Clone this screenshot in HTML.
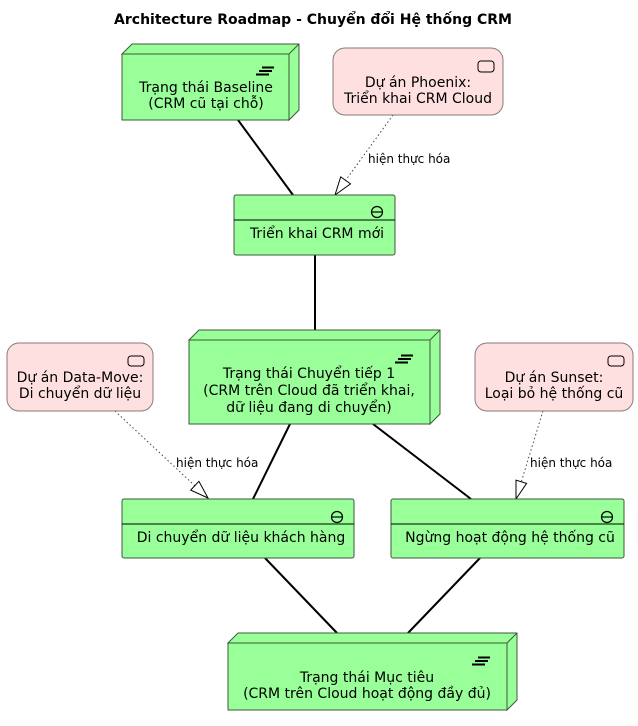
<!DOCTYPE html>
<html><head><meta charset="utf-8"><style>
html,body{margin:0;padding:0;background:#fff;}
svg{display:block;}
text{font-family:"DejaVu Sans","Liberation Sans",sans-serif;}
</style></head><body>
<svg width="638" height="726" viewBox="0 0 638 726" xmlns="http://www.w3.org/2000/svg">
<rect width="638" height="726" fill="#fff"/>
<text x="313" y="24" font-size="14" font-weight="bold" text-anchor="middle" fill="#000">Architecture Roadmap - Chuyển đổi Hệ thống CRM</text>

<!-- connectors -->
<g stroke="#000" stroke-width="2" fill="none">
<line x1="238" y1="120" x2="293" y2="195"/>
<line x1="315" y1="255" x2="315" y2="330"/>
<line x1="290" y1="424" x2="253" y2="499"/>
<line x1="373" y1="424" x2="471" y2="499"/>
<line x1="265" y1="558" x2="337" y2="633"/>
<line x1="480" y1="558" x2="408" y2="633"/>
</g>
<g stroke="#444" stroke-width="1" fill="none" stroke-dasharray="1.5,2.5">
<line x1="393" y1="115" x2="345.6" y2="180.4"/>
<line x1="115" y1="411" x2="194.8" y2="485.7"/>
<line x1="543" y1="411" x2="521.3" y2="481.8"/>
</g>
<g stroke="#000" stroke-width="1" fill="#fff">
<polygon points="335,195 350.5,183.9 340.7,176.9"/>
<polygon points="208,498 198.9,481.3 190.7,490.1"/>
<polygon points="516,499 526.6,483.4 516,480.2"/>
</g>
<g font-size="12" fill="#000">
<text x="368" y="163">hiện thực hóa</text>
<text x="176" y="467">hiện thực hóa</text>
<text x="530" y="467">hiện thực hóa</text>
</g>

<!-- 3D plateau boxes -->
<g fill="#99FF99" stroke="#3d5a3d" stroke-width="1">
<polygon points="122,54 132,44 299,44 299,110 289,120 289,54"/>
<rect x="122" y="54" width="167" height="66"/>
<line x1="289" y1="54" x2="299" y2="44"/>
<polygon points="189,340 199,330 440,330 440,414 430,424 430,340"/>
<rect x="189" y="340" width="241" height="84"/>
<line x1="430" y1="340" x2="440" y2="330"/>
<polygon points="228,643 238,633 517,633 517,700 507,710 507,643"/>
<rect x="228" y="643" width="279" height="67"/>
<line x1="507" y1="643" x2="517" y2="633"/>
</g>

<!-- plateau icons -->
<g stroke="#000" stroke-width="2">
<g transform="translate(0,0)">
<line x1="262" y1="67.5" x2="274" y2="67.5"/>
<line x1="259" y1="71" x2="272" y2="71"/>
<line x1="256" y1="74.5" x2="269" y2="74.5"/>
</g>
<g transform="translate(139,288)">
<line x1="262" y1="67.5" x2="274" y2="67.5"/>
<line x1="259" y1="71" x2="272" y2="71"/>
<line x1="256" y1="74.5" x2="269" y2="74.5"/>
</g>
<g transform="translate(216,590)">
<line x1="262" y1="67.5" x2="274" y2="67.5"/>
<line x1="259" y1="71" x2="272" y2="71"/>
<line x1="256" y1="74.5" x2="269" y2="74.5"/>
</g>
</g>

<!-- work packages (pink) -->
<g fill="#FFE0E0" stroke="#8a7a7a" stroke-width="1">
<rect x="333" y="48" width="170" height="67" rx="12" ry="12"/>
<rect x="7" y="343" width="146" height="68" rx="12" ry="12"/>
<rect x="475" y="343" width="158" height="68" rx="12" ry="12"/>
</g>
<g fill="none" stroke="#000" stroke-width="1">
<rect x="478" y="61" width="16" height="11" rx="3"/>
<rect x="128" y="356" width="16" height="10" rx="3"/>
<rect x="608" y="356" width="16" height="10" rx="3"/>
</g>

<!-- implementation events (green boxes) -->
<g fill="#99FF99" stroke="#3d5a3d" stroke-width="1">
<rect x="234" y="195" width="161" height="60" rx="2"/>
<rect x="122" y="499" width="232" height="59" rx="2"/>
<rect x="391" y="499" width="233" height="59" rx="2"/>
</g>
<g stroke="#000" stroke-width="1">
<line x1="234" y1="220" x2="395" y2="220"/>
<line x1="122" y1="524" x2="354" y2="524"/>
<line x1="391" y1="524" x2="624" y2="524"/>
</g>
<g fill="none" stroke="#000" stroke-width="1.2">
<circle cx="377" cy="212" r="5.5"/><line x1="371.5" y1="212" x2="382.5" y2="212"/>
<circle cx="337" cy="517" r="5.5"/><line x1="331.5" y1="517" x2="342.5" y2="517"/>
<circle cx="607" cy="517" r="5.5"/><line x1="601.5" y1="517" x2="612.5" y2="517"/>
</g>

<!-- labels -->
<g font-size="14" fill="#000" text-anchor="middle">
<text x="206" y="92">Trạng thái Baseline</text>
<text x="206" y="108">(CRM cũ tại chỗ)</text>
<text x="418" y="87">Dự án Phoenix:</text>
<text x="418" y="103">Triển khai CRM Cloud</text>
<text x="317" y="238">Triển khai CRM mới</text>
<text x="309" y="378">Trạng thái Chuyển tiếp 1</text>
<text x="309" y="395">(CRM trên Cloud đã triển khai,</text>
<text x="309" y="412">dữ liệu đang di chuyển)</text>
<text x="80" y="382">Dự án Data-Move:</text>
<text x="80" y="398">Di chuyển dữ liệu</text>
<text x="554" y="382">Dự án Sunset:</text>
<text x="554" y="398">Loại bỏ hệ thống cũ</text>
<text x="241" y="542">Di chuyển dữ liệu khách hàng</text>
<text x="510" y="542">Ngừng hoạt động hệ thống cũ</text>
<text x="367" y="682">Trạng thái Mục tiêu</text>
<text x="367" y="698">(CRM trên Cloud hoạt động đầy đủ)</text>
</g>
</svg>
</body></html>
